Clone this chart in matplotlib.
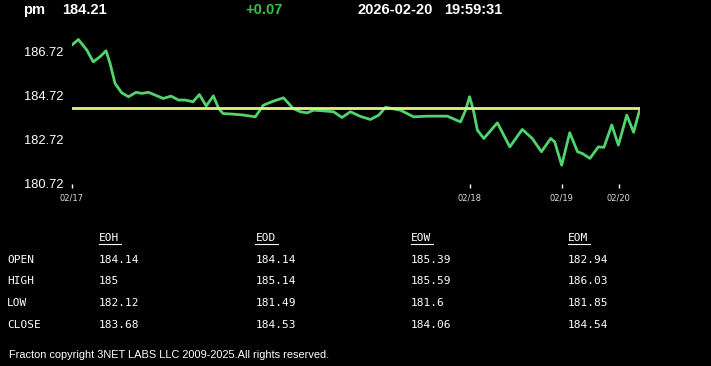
import matplotlib.pyplot as plt

# header
symbol = "pm"
last_price = "184.21"
change = "+0.07"
stamp_date = "2026-02-20"
stamp_time = "19:59:31"
prev_close = 184.14

# intraday series (sample index, price)
t = [0, 1.6, 3.7, 5.3, 7, 8.5, 9.5, 10.75, 12.4, 14.1, 16, 17.4, 19.1, 21.2,
     22.8, 24.7, 26.6, 28.25, 30.2, 31.8, 33.5, 35.3, 36.6, 37.7, 40.3, 42.8,
     45.75, 47.8, 50.3, 52.8, 55.2, 57, 58.7, 60.3, 62.8, 65.3, 67.4, 69.5,
     72, 74.5, 76.6, 78.25, 82, 85.3, 88.7, 93.7, 97, 98.25, 99.25, 100.2,
     101.2, 102.8, 106.2, 109.3, 112.4, 114.9, 117.2, 119.5, 120.5, 122.25,
     124.25, 126.2, 127.4, 129.3, 131.4, 132.8, 134.75, 136.4, 138.5, 140.2,
     141.8]
price = [187.01, 187.26, 186.78, 186.25, 186.48, 186.75, 186.18, 185.27,
         184.85, 184.67, 184.87, 184.82, 184.87, 184.71, 184.59, 184.70,
         184.52, 184.52, 184.44, 184.77, 184.25, 184.71, 184.14, 183.91,
         183.88, 183.84, 183.76, 184.29, 184.47, 184.62, 184.14, 183.99,
         183.94, 184.06, 184.03, 183.99, 183.73, 183.99, 183.78, 183.64,
         183.84, 184.19, 184.06, 183.76, 183.79, 183.79, 183.53, 184.06,
         184.67, 184.06, 183.16, 182.78, 183.49, 182.40, 183.19, 182.78,
         182.18, 182.78, 182.63, 181.57, 183.04, 182.18, 182.10, 181.88,
         182.40, 182.38, 183.39, 182.48, 183.84, 183.06, 184.14]

tick_pos = [0, 99.25, 122.25, 136.5]
tick_labels = ["02/17", "02/18", "02/19", "02/20"]
y_ticks = [180.72, 182.72, 184.72, 186.72]

# summary table
col_names = ["EOH", "EOD", "EOW", "EOM"]
row_names = ["OPEN", "HIGH", "LOW", "CLOSE"]
table = [["184.14", "184.14", "185.39", "182.94"],
         ["185", "185.14", "185.59", "186.03"],
         ["182.12", "181.49", "181.6", "181.85"],
         ["183.68", "184.53", "184.06", "184.54"]]
footer = "Fracton copyright 3NET LABS LLC 2009-2025.All rights reserved."

W, H = 711, 366
fig = plt.figure(figsize=(W / 100, H / 100), dpi=100, facecolor="black")

def px(x, y):
    return x / W, 1 - y / H

# chart
ax = fig.add_axes([72 / W, (H - 184) / H, 568 / W, (184 - 36.4) / H])
ax.set_facecolor("black")
ax.plot(t, price, color="#4fd46e", lw=2, solid_joinstyle="round",
        solid_capstyle="round", zorder=2)
ax.axhline(prev_close, color="#e2f27c", lw=2, zorder=3)
ax.set_xlim(0, 141.8)
ax.set_ylim(180.72, 187.4)
for s in ax.spines.values():
    s.set_visible(False)
ax.set_yticks(y_ticks)
ax.set_yticklabels([f"{v:.2f}" for v in y_ticks], family="Liberation Sans",
                   fontsize=9.3, color="white")
ax.tick_params(axis="y", length=0, pad=6)
ax.set_xticks(tick_pos)
ax.set_xticklabels(tick_labels, fontsize=6, color="#dddddd")
ax.tick_params(axis="x", length=3, width=1, color="white", pad=4,
               direction="out")

# header
hdr = dict(color="white", fontsize=10.5, fontweight="bold",
           family="Liberation Sans", va="center", ha="left")
fig.text(*px(23, 10), symbol, **hdr)
fig.text(*px(62, 10), last_price, **hdr)
fig.text(*px(245, 10), change, **{**hdr, "color": "#3fbf3f"})
fig.text(*px(358, 10), stamp_date, **hdr)
fig.text(*px(444, 10), stamp_time, **hdr)

# table
mono = dict(color="white", fontsize=8, family="DejaVu Sans Mono",
            va="center", ha="left")
col_x = [99, 255.5, 411, 567.5]
row_y = [260, 281, 302.5, 325]
for cx, name in zip(col_x, col_names):
    fig.text(*px(cx, 238), name, **mono)
    fig.add_artist(plt.Line2D([cx / W, (cx + 22) / W],
                              [1 - 244 / H, 1 - 244 / H],
                              color="white", lw=0.8))
for ry, name, vals in zip(row_y, row_names, table):
    fig.text(*px(7, ry), name, **mono)
    for cx, v in zip(col_x, vals):
        fig.text(*px(cx, ry), v, **mono)

fig.text(*px(9, 355), footer, color="white", fontsize=7.95,
         family="Liberation Sans", va="center", ha="left")

fig.savefig("out.png", dpi=100, facecolor="black")
